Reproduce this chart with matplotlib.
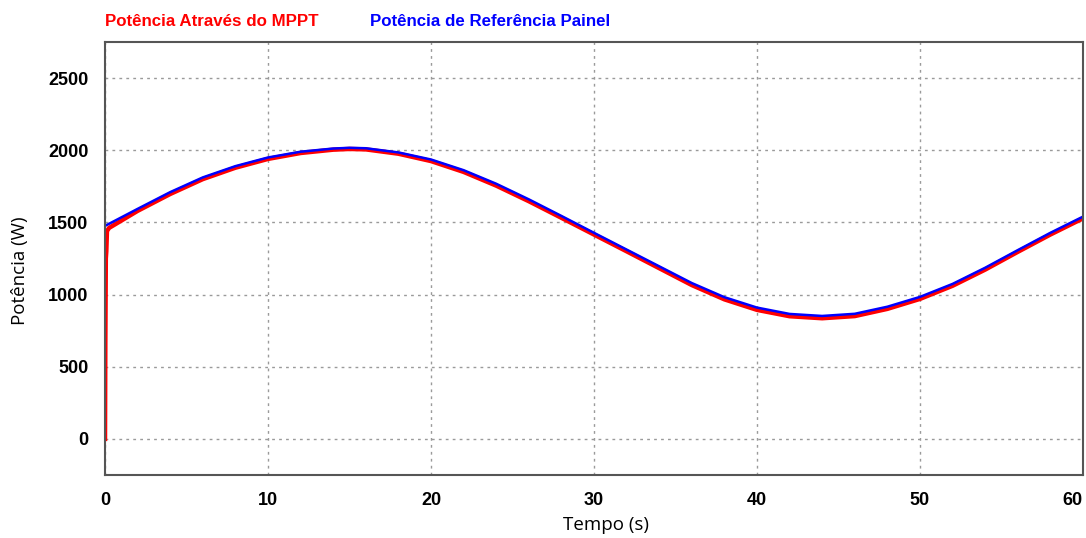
import numpy as np
import matplotlib.pyplot as plt

# tempo (s) e potência de referência do painel (W)
t_ref = [0.0, 2, 4, 6, 8, 10, 12, 14, 15, 16, 18, 20, 22, 24, 26, 28, 30,
         32, 34, 36, 38, 40, 42, 44, 46, 48, 50, 52, 54, 56, 58, 60]
p_ref = [1476, 1594, 1710, 1812, 1890, 1950, 1990, 2012, 2017, 2014, 1985,
         1936, 1862, 1768, 1660, 1545, 1428, 1312, 1196, 1080, 982, 910,
         866, 852, 867, 916, 984, 1074, 1186, 1308, 1428, 1540]

# potência na saída do MPPT, com o transitório de partida
t_mppt = [0.0, 0.02, 0.05, 0.08, 0.12, 0.25, 2, 4, 6, 8, 10, 12, 14, 15, 16,
          18, 20, 22, 24, 26, 28, 30, 32, 34, 36, 38, 40, 42, 44, 46, 48, 50,
          52, 54, 56, 58, 60]
p_mppt = [0, 660, 1250, 1300, 1440, 1462, 1580, 1697, 1800, 1879, 1940,
          1981, 2004, 2009, 2006, 1976, 1925, 1850, 1755, 1647, 1532, 1416,
          1300, 1183, 1066, 967, 894, 850, 836, 851, 901, 970, 1061, 1173,
          1296, 1416, 1528]

fig = plt.figure(figsize=(10.86, 5.38), dpi=100)
ax = fig.add_axes([0.0967, 0.1171, 0.9005, 0.8048])

ax.plot(t_mppt, p_mppt, color='#ff0000', lw=3.2, solid_joinstyle='round')
ax.plot(t_ref, p_ref, color='#0000ff', lw=1.8)

ax.set_xlim(0, 60)
ax.set_ylim(-250, 2750)
ax.set_xticks(np.arange(0, 61, 10))
ax.set_yticks(np.arange(0, 2501, 500))

ax.grid(True, color='#9a9a9a', lw=1.0, linestyle=(0, (2, 3)))
ax.set_axisbelow(True)
for s in ax.spines.values():
    s.set_color('#555555')
    s.set_linewidth(1.5)

ax.tick_params(length=0, labelsize=13, pad=12)
ax.tick_params(axis='y', pad=12)
for lab in ax.get_xticklabels() + ax.get_yticklabels():
    lab.set_fontweight('bold')
    lab.set_family('Liberation Sans')
ax.get_xticklabels()[-1].set_ha('right')

ax.set_xlabel('Tempo (s)', fontsize=13.5, family='Open Sans')
ax.set_ylabel('Potência (W)', fontsize=13.5, family='Open Sans')
ax.xaxis.set_label_coords(0.512, -0.115)
ax.yaxis.set_label_coords(-0.087, 0.471)
ax.xaxis.label.set_va('center')
ax.yaxis.label.set_va('center')

fig.text(0.0967, 0.960, 'Potência Através do MPPT', color='#ff0000',
         fontsize=12.2, fontweight='bold', family='Liberation Sans', va='center')
fig.text(0.341, 0.960, 'Potência de Referência Painel', color='#0000ff',
         fontsize=12.2, fontweight='bold', family='Liberation Sans', va='center')

fig.savefig('out.png', dpi=100)
